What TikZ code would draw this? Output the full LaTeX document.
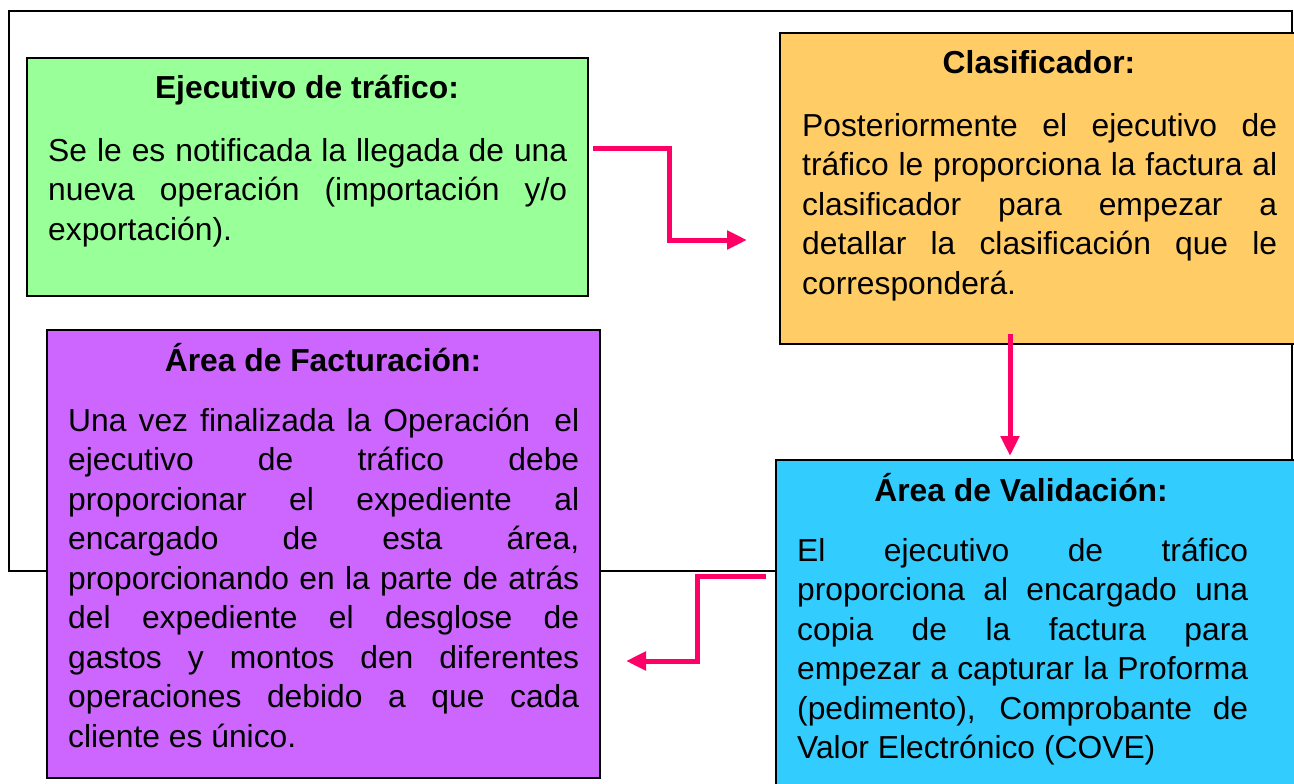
\documentclass[tikz,border=0pt]{standalone}
\usepackage{fontspec}
\setmainfont{Liberation Sans}
\usetikzlibrary{arrows.meta}
\definecolor{cgreen}{HTML}{99FF99}
\definecolor{corange}{HTML}{FFCC66}
\definecolor{cpurple}{HTML}{CC66FF}
\definecolor{ccyan}{HTML}{33CCFF}
\definecolor{cmag}{HTML}{FF0066}
\newcommand\bodyset{\hyphenpenalty=10000 \tolerance=10000 \emergencystretch=20pt\relax}
\begin{document}
\begin{tikzpicture}[x=1pt,y=-1pt,
  box/.style={draw=black,line width=1.5pt,inner sep=0pt,outer sep=0pt},
  ttl/.style={anchor=base,inner sep=0pt,font=\fontsize{31.8}{39.5}\selectfont\bfseries},
  body/.style={anchor=base west,inner sep=0pt,align=justify,
    font=\fontsize{31.8}{39.5}\selectfont},
  flow/.style={draw=cmag,line width=5pt,-{Triangle[length=20pt,width=18pt]}}]
\useasboundingbox (0,0) rectangle (1294,784);
\fill[white] (0,0) rectangle (1294,784);
% outer frame
\draw[line width=2pt] (9,11) rectangle (1292,571);
% boxes
\path[box,fill=cgreen] (27,58) rectangle (588,296);
\path[box,fill=corange] (780,33) rectangle (1300,344);
\path[box,fill=cpurple] (47,330) rectangle (600,778);
\path[box,fill=ccyan] (776,460) rectangle (1297,800);
% titles
\node[ttl] (t1) at (307,99) {Ejecutivo de tráfico:};
\node[ttl] (t2) at (1039,74) {Clasificador:};
\node[ttl] (t3) at (323,371) {Área de Facturación:};
\node[ttl] (t4) at (1021,501) {Área de Validación:};
% bodies
\node[body,text width=519pt] (b1) at (48,161) {\bodyset Se le es notificada la llegada de una\linebreak
nueva operación (importación y/o\linebreak
exportación).};
\node[body,text width=475pt] (b2) at (802,136) {\bodyset Posteriormente el ejecutivo de\linebreak
tráfico le proporciona la factura al\linebreak
clasificador para empezar a\linebreak
detallar la clasificación que le\linebreak
corresponderá.};
\node[body,text width=511pt] (b3) at (68,431) {\bodyset Una vez finalizada la Operación\ \ el\linebreak
ejecutivo de tráfico debe\linebreak
proporcionar el expediente al\linebreak
encargado de esta área,\linebreak
proporcionando en la parte de atrás\linebreak
del expediente el desglose de\linebreak
gastos y montos den diferentes\linebreak
operaciones debido a que cada\linebreak
cliente es único.};
\node[body,text width=451pt] (b4) at (797,561) {\bodyset El ejecutivo de tráfico\linebreak
proporciona al encargado una\linebreak
copia de la factura para\linebreak
empezar a capturar la Proforma\linebreak
(pedimento), Comprobante de\linebreak
Valor Electrónico (COVE)};
% connectors
\coordinate (a1s) at (593,148);
\coordinate (a1e) at (747,240);
\coordinate (a2s) at (1010,334);
\coordinate (a2e) at (1010,456);
\coordinate (a3s) at (766,576);
\coordinate (a3e) at (626,661);
\draw[flow] (a1s) -- (669,148) |- (a1e);
\draw[flow] (a2s) -- (a2e);
\draw[flow] (a3s) -- (697,576) |- (a3e);
\end{tikzpicture}
\end{document}
